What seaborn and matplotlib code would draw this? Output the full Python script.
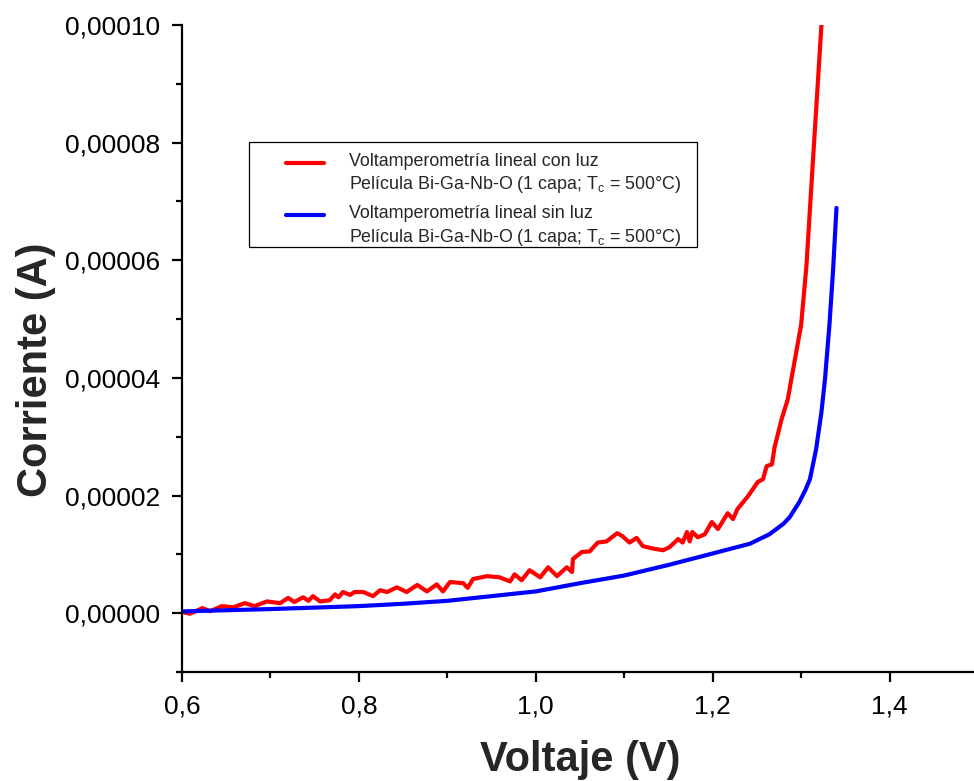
import numpy as np
import pandas as pd
import matplotlib
matplotlib.use("Agg")
import matplotlib.pyplot as plt
import seaborn as sns
from matplotlib.legend_handler import HandlerLine2D

# ---- data ----
v_luz = [0.600, 0.609, 0.623, 0.632, 0.645, 0.658, 0.671, 0.682, 0.696, 0.711,
         0.720, 0.727, 0.737, 0.743, 0.748, 0.756, 0.767, 0.773, 0.777, 0.782,
         0.790, 0.795, 0.805, 0.816, 0.824, 0.832, 0.843, 0.854, 0.866, 0.877,
         0.888, 0.895, 0.903, 0.918, 0.923, 0.929, 0.945, 0.959, 0.971, 0.976,
         0.984, 0.993, 1.005, 1.014, 1.024, 1.035, 1.041, 1.042, 1.052, 1.061,
         1.070, 1.080, 1.092, 1.098, 1.106, 1.114, 1.121, 1.132, 1.144, 1.151,
         1.161, 1.166, 1.171, 1.174, 1.177, 1.183, 1.191, 1.199, 1.206, 1.217,
         1.223, 1.228, 1.240, 1.251, 1.257, 1.261, 1.267, 1.270, 1.278, 1.285,
         1.289, 1.300, 1.306, 1.313, 1.318, 1.323]
i_luz = [2e-7, -1e-7, 8.5e-7, 3.4e-7, 1.2e-6, 1.0e-6, 1.7e-6, 1.2e-6, 2.0e-6, 1.7e-6,
         2.6e-6, 1.9e-6, 2.7e-6, 2.1e-6, 2.9e-6, 2.0e-6, 2.2e-6, 3.2e-6, 2.7e-6, 3.6e-6,
         3.1e-6, 3.6e-6, 3.6e-6, 2.9e-6, 3.9e-6, 3.6e-6, 4.4e-6, 3.6e-6, 4.8e-6, 3.7e-6,
         4.9e-6, 3.7e-6, 5.3e-6, 5.1e-6, 4.3e-6, 5.8e-6, 6.3e-6, 6.1e-6, 5.4e-6, 6.6e-6,
         5.6e-6, 7.3e-6, 6.1e-6, 7.8e-6, 6.3e-6, 7.8e-6, 7.0e-6, 9.2e-6, 1.04e-5, 1.05e-5,
         1.20e-5, 1.22e-5, 1.36e-5, 1.31e-5, 1.20e-5, 1.28e-5, 1.14e-5, 1.10e-5, 1.07e-5, 1.12e-5,
         1.26e-5, 1.20e-5, 1.38e-5, 1.22e-5, 1.38e-5, 1.29e-5, 1.34e-5, 1.55e-5, 1.43e-5, 1.70e-5,
         1.60e-5, 1.77e-5, 1.99e-5, 2.23e-5, 2.28e-5, 2.50e-5, 2.53e-5, 2.82e-5, 3.30e-5, 3.64e-5,
         3.98e-5, 4.9e-5, 5.9e-5, 7.6e-5, 8.8e-5, 1.0e-4]

v_sin = [0.600, 0.650, 0.700, 0.750, 0.800, 0.850, 0.900, 0.950, 1.000, 1.050,
         1.100, 1.150, 1.186, 1.219, 1.242, 1.264, 1.280, 1.287, 1.298, 1.305,
         1.310, 1.317, 1.323, 1.327, 1.332, 1.336, 1.340]
i_sin = [3.0e-7, 5.0e-7, 7.0e-7, 9.5e-7, 1.2e-6, 1.6e-6, 2.1e-6, 2.9e-6, 3.7e-6, 5.1e-6,
         6.4e-6, 8.2e-6, 9.6e-6, 1.09e-5, 1.18e-5, 1.34e-5, 1.52e-5, 1.63e-5, 1.89e-5, 2.1e-5,
         2.28e-5, 2.79e-5, 3.42e-5, 3.98e-5, 4.9e-5, 5.8e-5, 6.89e-5]

label_luz = "Voltamperometría lineal con luz\nPelícula Bi-Ga-Nb-O (1 capa; T$_\\mathregular{c}$ = 500°C)"
label_sin = "Voltamperometría lineal sin luz\nPelícula Bi-Ga-Nb-O (1 capa; T$_\\mathregular{c}$ = 500°C)"

x_ticks = [0.6, 0.8, 1.0, 1.2, 1.4]
x_ticklabels = ["0,6", "0,8", "1,0", "1,2", "1,4"]
y_ticks = [0.0, 0.00002, 0.00004, 0.00006, 0.00008, 0.00010]
y_ticklabels = ["0,00000", "0,00002", "0,00004", "0,00006", "0,00008", "0,00010"]

# ---- style ----
sns.set_style("ticks")
plt.rcParams["font.family"] = ["Liberation Sans", "DejaVu Sans"]
plt.rcParams["mathtext.default"] = "regular"

fig = plt.figure(figsize=(9.74, 7.81), dpi=100)
ax = fig.add_axes([182 / 974, 109 / 781, 796 / 974, 647 / 781])

df_luz = pd.DataFrame({"V": v_luz, "I": i_luz})
df_sin = pd.DataFrame({"V": v_sin, "I": i_sin})
sns.lineplot(data=df_luz, x="V", y="I", ax=ax, color="#ff0000", lw=3,
             sort=False, estimator=None, label=label_luz)
sns.lineplot(data=df_sin, x="V", y="I", ax=ax, color="#0000ff", lw=3,
             sort=False, estimator=None, label=label_sin)

ax.set_xlim(0.6, 1.5)
ax.set_ylim(-0.00001, 0.0001)
ax.set_xticks(x_ticks)
ax.set_xticklabels(x_ticklabels)
ax.set_yticks(y_ticks)
ax.set_yticklabels(y_ticklabels)
ax.set_xticks(np.arange(0.7, 1.5, 0.2), minor=True)
ax.set_yticks([-0.00001, 0.00001, 0.00003, 0.00005, 0.00007, 0.00009], minor=True)

for s in ["top", "right"]:
    ax.spines[s].set_visible(False)
for s in ["left", "bottom"]:
    ax.spines[s].set_linewidth(1.6)
    ax.spines[s].set_color("black")

ax.tick_params(which="major", direction="out", length=7, width=1.6,
               labelsize=19, colors="black")
ax.tick_params(axis="x", which="major", pad=9)
ax.tick_params(axis="y", which="major", pad=8.5)
ax.tick_params(which="minor", direction="out", length=4.3, width=1.6, colors="black")

ax.set_xlabel("Voltaje (V)", fontsize=30, fontweight="bold", labelpad=16)
ax.set_ylabel("Corriente (A)", fontsize=30, fontweight="bold", labelpad=7)
ax.yaxis.label.set_y(0.467)


class UpperLineHandler(HandlerLine2D):
    def create_artists(self, legend, orig_handle, xdescent, ydescent,
                       width, height, fontsize, trans):
        arts = super().create_artists(legend, orig_handle, xdescent, ydescent,
                                      width, height, fontsize, trans)
        for a in arts:
            a.set_ydata(np.asarray(a.get_ydata()) + 8.3)
        return arts


handles, labels = ax.get_legend_handles_labels()
hmap = {h: UpperLineHandler(numpoints=2, marker_pad=1.44) for h in handles}
leg = ax.legend(handles, labels, loc="upper left",
                bbox_to_anchor=((249 - 182) / 796, (672 - 142) / 647),
                borderaxespad=0, fontsize=12.9, frameon=True, fancybox=False,
                framealpha=1, edgecolor="black", handlelength=5.0,
                handletextpad=0.0, borderpad=0.6, labelspacing=0.55,
                handler_map=hmap)
leg.get_frame().set_linewidth(0.9)
for t in leg.get_texts():
    t.set_linespacing(1.3)

# tighten the frame at the bottom and widen slightly at the right
_frame = leg.get_frame()
_orig_set_bounds = _frame.set_bounds


def _set_bounds(*args):
    if len(args) == 1:
        x, y, w, h = args[0]
    else:
        x, y, w, h = args
    _orig_set_bounds(x, y + 11, w + 4, h - 11)


_frame.set_bounds = _set_bounds

fig.savefig("out.png", dpi=100)
